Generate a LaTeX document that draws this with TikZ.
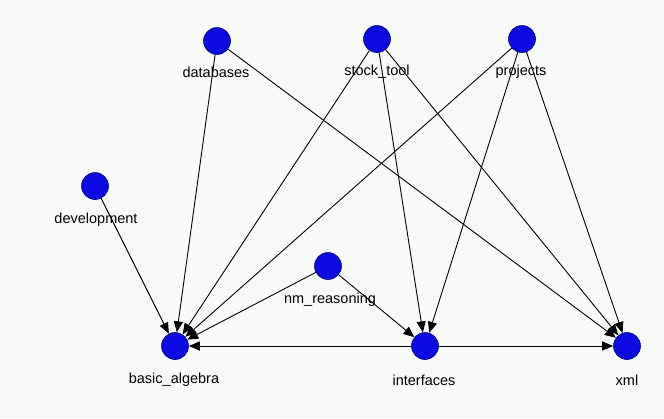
\documentclass[tikz,border=0pt]{standalone}
\usepackage{fontspec}
\setmainfont{Liberation Sans}
\usetikzlibrary{arrows.meta}
\definecolor{nodeblue}{RGB}{10,10,225}
\definecolor{bgpaper}{RGB}{248,250,247}
\tikzset{
  vertex/.style={circle,fill=nodeblue,draw=nodeblue!55!black,line width=0.6pt,minimum size=27pt,inner sep=0pt},
  lbl/.style={font=\fontsize{14.5}{16}\selectfont,inner sep=0pt},
  edge/.style={-{Triangle[length=11pt,width=9pt]},line width=0.9pt},
}
\begin{document}
\begin{tikzpicture}[x=1pt,y=-1pt]
\fill[bgpaper] (0,0) rectangle (664,418);
\useasboundingbox (0,0) rectangle (664,418);
%vertices
\node[vertex] (databases) at (217,41) {};
\node[vertex] (stocktool) at (377,39) {};
\node[vertex] (projects) at (522,39) {};
\node[vertex] (development) at (95,186) {};
\node[vertex] (nmreasoning) at (328,266) {};
\node[vertex] (algebra) at (175,346) {};
\node[vertex] (interfaces) at (425,346) {};
\node[vertex] (xml) at (627,346) {};
%names
\node[lbl] (databases-lbl) at (216,72) {databases};
\node[lbl] (stocktool-lbl) at (377,72) {stock\_tool};
\node[lbl] (projects-lbl) at (521,72) {projects};
\node[lbl] (development-lbl) at (96,220) {development};
\node[lbl] (nmreasoning-lbl) at (330,300) {nm\_reasoning};
\node[lbl] (algebra-lbl) at (174,380) {basic\_algebra};
\node[lbl] (interfaces-lbl) at (424,380) {interfaces};
\node[lbl] (xml-lbl) at (627,380) {xml};
%edges
\draw[edge] (databases)--(algebra);
\draw[edge] (databases)--(xml);
\draw[edge] (stocktool)--(algebra);
\draw[edge] (stocktool)--(interfaces);
\draw[edge] (stocktool)--(xml);
\draw[edge] (projects)--(algebra);
\draw[edge] (projects)--(interfaces);
\draw[edge] (projects)--(xml);
\draw[edge] (development)--(algebra);
\draw[edge,{Triangle[length=11pt,width=9pt]}-] (algebra)--(nmreasoning);
\draw[edge] (nmreasoning)--(interfaces);
\draw[edge] (interfaces)--(algebra);
\draw[edge] (interfaces)--(xml);
\end{tikzpicture}
\end{document}
